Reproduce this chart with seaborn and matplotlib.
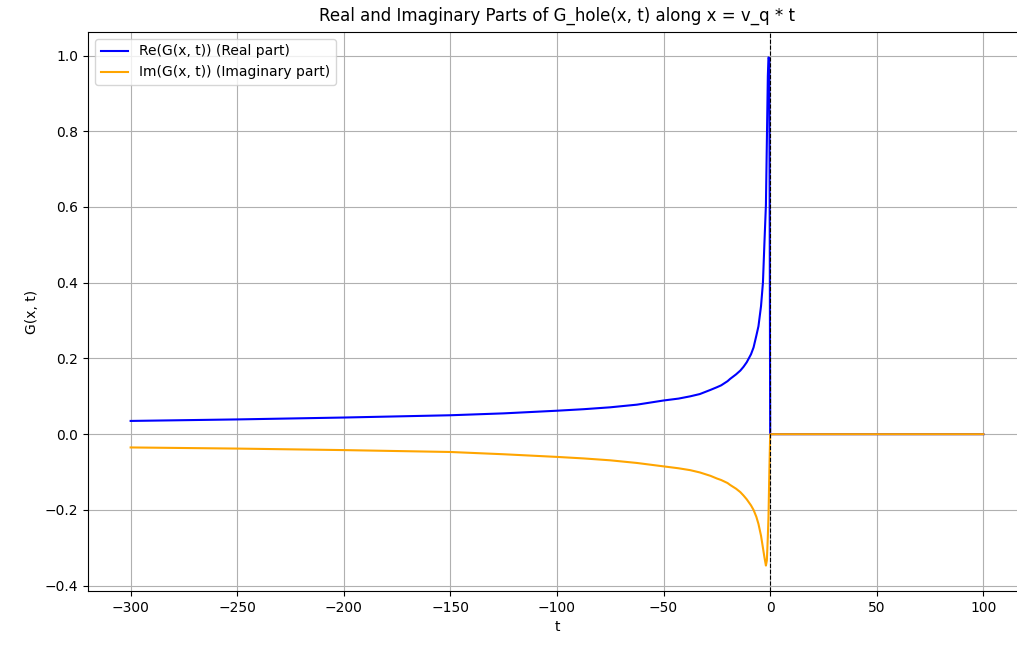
import matplotlib
matplotlib.use("Agg")
import matplotlib.pyplot as plt
import seaborn as sns
import numpy as np
import pandas as pd

# t values
t_vals = [-300, -250, -200, -150, -125, -100, -87.5, -75, -62.5, -50, -43, -37.5,
          -33, -28, -25, -23, -20, -18.8, -16, -14, -12.5, -11, -9, -7.8, -6.5,
          -5.5, -4.3, -3.4, -2.7, -2.0, -1.55, -1.1, -0.8, -0.4, 0, 100]
re_vals = [0.035, 0.039, 0.044, 0.050, 0.055, 0.062, 0.066, 0.071, 0.078, 0.089,
           0.094, 0.100, 0.106, 0.117, 0.124, 0.129, 0.140, 0.146, 0.158, 0.168,
           0.178, 0.190, 0.211, 0.229, 0.260, 0.285, 0.338, 0.400, 0.505, 0.605,
           0.775, 0.945, 0.995, 0.992, 0.0, 0.0]
im_vals = [-0.035, -0.038, -0.042, -0.047, -0.053, -0.060, -0.064, -0.069, -0.076,
           -0.085, -0.090, -0.095, -0.101, -0.110, -0.117, -0.121, -0.129, -0.134,
           -0.144, -0.153, -0.162, -0.172, -0.188, -0.200, -0.218, -0.237, -0.268,
           -0.300, -0.325, -0.347, -0.333, -0.270, -0.220, -0.100, 0.0, 0.0]

df = pd.DataFrame({"t": t_vals, "re": re_vals, "im": im_vals})

W, H = 1017, 648
fig = plt.figure(figsize=(W / 100, H / 100), dpi=100)
ax = fig.add_axes([88 / W, 57 / H, (1026 - 88) / W, (591 - 32) / H])

sns.lineplot(data=df, x="t", y="re", ax=ax, color="blue", linewidth=1.5,
             estimator=None, label="Re(G(x, t)) (Real part)")
sns.lineplot(data=df, x="t", y="im", ax=ax, color="orange", linewidth=1.5,
             estimator=None, label="Im(G(x, t)) (Imaginary part)")
ax.axvline(0, color="black", linestyle="--", linewidth=0.8)

ax.set_title("Real and Imaginary Parts of G_hole(x, t) along x = v_q * t",
             fontsize=12, pad=8)
ax.set_xlabel("t")
ax.set_ylabel("G(x, t)")
ax.grid(True, color="#b0b0b0", linewidth=0.8)
ax.set_axisbelow(True)
ax.legend(loc="upper left")

fig.savefig("out.png", dpi=100)
